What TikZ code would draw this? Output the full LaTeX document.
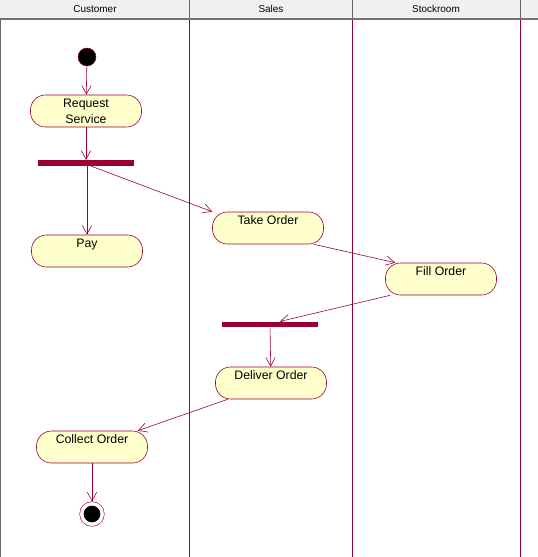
\documentclass[tikz,border=0pt]{standalone}
\usepackage{fontspec}
\setmainfont{Liberation Sans}
\usetikzlibrary{arrows.meta,positioning}
\definecolor{umlred}{HTML}{990033}
\definecolor{umlfill}{HTML}{FFFFCC}
\definecolor{hdrgray}{HTML}{F0F0F0}
\tikzset{
  act/.style   = {rectangle, rounded corners=0.45cm, draw=umlred, fill=umlfill,
                  line width=0.5pt, minimum height=0.96cm, minimum width=3.33cm,
                  align=center, font=\fontsize{10.5}{13.5}\selectfont, inner sep=0pt},
  act1/.style  = {act, text height=0.27cm, text depth=0.47cm},
  bar/.style   = {rectangle, fill=umlred, draw=none, minimum width=2.88cm,
                  minimum height=0.17cm, inner sep=0pt},
  lane/.style  = {draw=umlred, line width=0.6pt},
  hdr/.style   = {font=\fontsize{8.5}{10}\selectfont},
  ar/.style    = {-{Straight Barb[length=2.6mm,width=2.8mm]}, draw=umlred, line width=0.5pt}
}
\begin{document}
\begin{tikzpicture}[x=0.03cm, y=-0.03cm]
  \useasboundingbox (0,0) rectangle (538,557);
  % header
  \fill[hdrgray] (0,0) rectangle (538,18);
  \draw[black!55, line width=1pt] (0,19) -- (538,19);
  \foreach \x in {189,352,520}
    \draw[black!60, line width=0.8pt] (\x,0) -- (\x,18);
  \node[hdr] (hc) at (95,9) {Customer};
  \node[hdr] (hs) at (271,9) {Sales};
  \node[hdr] (hk) at (436,9) {Stockroom};
  % lanes
  \draw[black!60, line width=1pt] (0.5,20) -- (0.5,557);
  \foreach \x in {189,352,520}
    \draw[lane] (\x,20) -- (\x,557);

  \node[circle, fill=black, draw=umlred, minimum size=0.54cm, inner sep=0pt] (start) at (87,57) {};
  \node[act] (req) at (86,111) {Request\\Service};
  \node[bar] (fork) at (86,163) {};
  \node[act1] (pay) at (87,251) {Pay};
  \node[act1] (take) at (268,228) {Take Order};
  \node[act1] (fill) at (441,279) {Fill Order};
  \node[bar] (join) at (270,324.5) {};
  \node[act1] (deliver) at (271,383) {Deliver Order};
  \node[act1] (collect) at (92,447) {Collect Order};
  \node[circle, draw=umlred, fill=white, minimum size=0.74cm, inner sep=0pt] (stop) at (92,514) {};
  \node[circle, fill=black, minimum size=0.5cm, inner sep=0pt] (stopin) at (stop) {};

  \draw[ar] (start) -- (req);
  \draw[ar] (req) -- (fork);
  \draw[ar] (fork.south -| pay.north) -- (pay);
  \draw[ar] ([xshift=0.15cm]fork.south) -- (take.north west);
  \draw[ar] ([xshift=-0.3cm]take.south east) -- ([xshift=0.3cm]fill.north west);
  \draw[ar] ([xshift=0.15cm]fill.south west) -- ([xshift=0.3cm]join.north);
  \draw[ar] (join) -- (deliver);
  \draw[ar] ([xshift=-1.3cm]deliver.south) -- ([xshift=-0.3cm]collect.north east);
  \draw[ar] (collect) -- (stop);
\end{tikzpicture}
\end{document}
